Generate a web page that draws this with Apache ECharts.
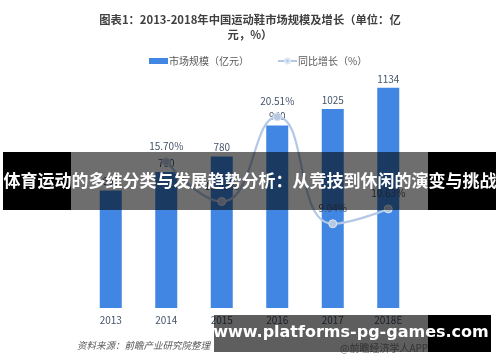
<!DOCTYPE html>
<html><head><meta charset="utf-8">
<script src="https://cdn.jsdelivr.net/npm/echarts@6/dist/echarts.min.js"></script>
<style>html,body{margin:0;padding:0;background:#fff}#c{width:500px;height:362px}</style>
</head><body><div id="c"></div>
<script>
const categories = ['2013','2014','2015','2016','2017','2018E'];
const marketSize = [605, 700, 780, 940, 1025, 1134];
const growth = ['-', 15.70, 11.43, 20.51, 9.04, 10.63];
const titleText = '图表1：2013-2018年中国运动鞋市场规模及增长（单位：亿\n元，%）';
const legendNames = ['市场规模（亿元）', '同比增长（%）'];
const bannerText = '体育运动的多维分类与发展趋势分析：从竞技到休闲的演变与挑战';
const footerText = 'www.platforms-pg-games.com';
const sourceText = '资料来源：前瞻产业研究院整理';
const appText = '@前瞻经济学人APP';

const chart = echarts.init(document.getElementById('c'), null, {renderer:'canvas'});
const cjk = '"Noto Sans CJK SC", "Noto Sans", sans-serif';
chart.setOption({
  animation: false,
  backgroundColor: '#fff',
  title: {
    text: titleText, left: 'center', top: 7,
    textStyle: {fontSize: 11.3, fontWeight: 'bold', color: '#404040', fontFamily: cjk, lineHeight: 15}
  },
  legend: {
    top: 51, left: 144, itemGap: 28, itemWidth: 19, itemHeight: 6,
    textStyle: {fontSize: 10, color: '#595959', fontFamily: cjk, padding: [0,0,0,-4]},
    data: [{name: legendNames[0], icon: 'rect'}, {name: legendNames[1]}]
  },
  grid: {left: 83, right: 84, top: 75, bottom: 54, containLabel: false},
  xAxis: {
    type: 'category', data: categories,
    axisLine: {show: false}, axisTick: {show: false},
    axisLabel: {fontSize: 10, color: '#44546a', margin: 7, fontFamily: cjk}
  },
  yAxis: [
    {type: 'value', min: 0, max: 1200, show: false, splitLine: {show: false}},
    {type: 'value', min: 0, max: 25, show: false, splitLine: {show: false}}
  ],
  series: [
    {
      name: legendNames[0], type: 'bar', data: marketSize, barWidth: 22,
      itemStyle: {color: '#4086e2'},
      label: {show: true, position: 'top', distance: 4, fontSize: 10, color: '#44546a', fontFamily: cjk}
    },
    {
      name: legendNames[1], type: 'line', yAxisIndex: 1, data: growth, smooth: 0.5,
      symbol: 'circle', symbolSize: 8,
      lineStyle: {color: '#b3c8e6', width: 2.2},
      itemStyle: {color: '#b7c8e2', borderColor: '#dfe7f3', borderWidth: 1},
      label: {show: true, position: 'top', distance: 6, fontSize: 10, color: '#44546a', fontFamily: cjk,
        formatter: p => p.value.toFixed(2) + '%'}
    }
  ],
  graphic: [
    {type: 'text', left: 77, top: 341, style: {text: sourceText, fill: '#595959', font: 'italic 9.5px ' + cjk}},
    {type: 'text', left: 340, top: 343, style: {text: appText, fill: '#8a8a8a', font: '10px ' + cjk}},
    {type: 'rect', shape: {x: 3, y: 152, width: 68, height: 58}, style: {fill: '#000'}, z: 100},
    {type: 'rect', shape: {x: 71, y: 152, width: 357, height: 58}, style: {fill: 'rgba(0,0,0,0.57)'}, z: 100},
    {type: 'rect', shape: {x: 428, y: 152, width: 68, height: 58}, style: {fill: '#000'}, z: 100},
    {type: 'text', x: 250, y: 181, style: {text: bannerText, fill: '#fff', font: 'bold 17px ' + cjk, align: 'center', verticalAlign: 'middle'}, z: 101},
    {type: 'rect', shape: {x: 214, y: 315, width: 214, height: 37}, style: {fill: 'rgba(0,0,0,0.63)'}, z: 100},
    {type: 'rect', shape: {x: 428, y: 315, width: 63, height: 37}, style: {fill: '#000'}, z: 100},
    {type: 'text', x: 351, y: 333, style: {text: footerText, fill: '#fff', font: 'bold 16px "DejaVu Sans", sans-serif', align: 'center', verticalAlign: 'middle'}, z: 101}
  ]
});
</script></body></html>
